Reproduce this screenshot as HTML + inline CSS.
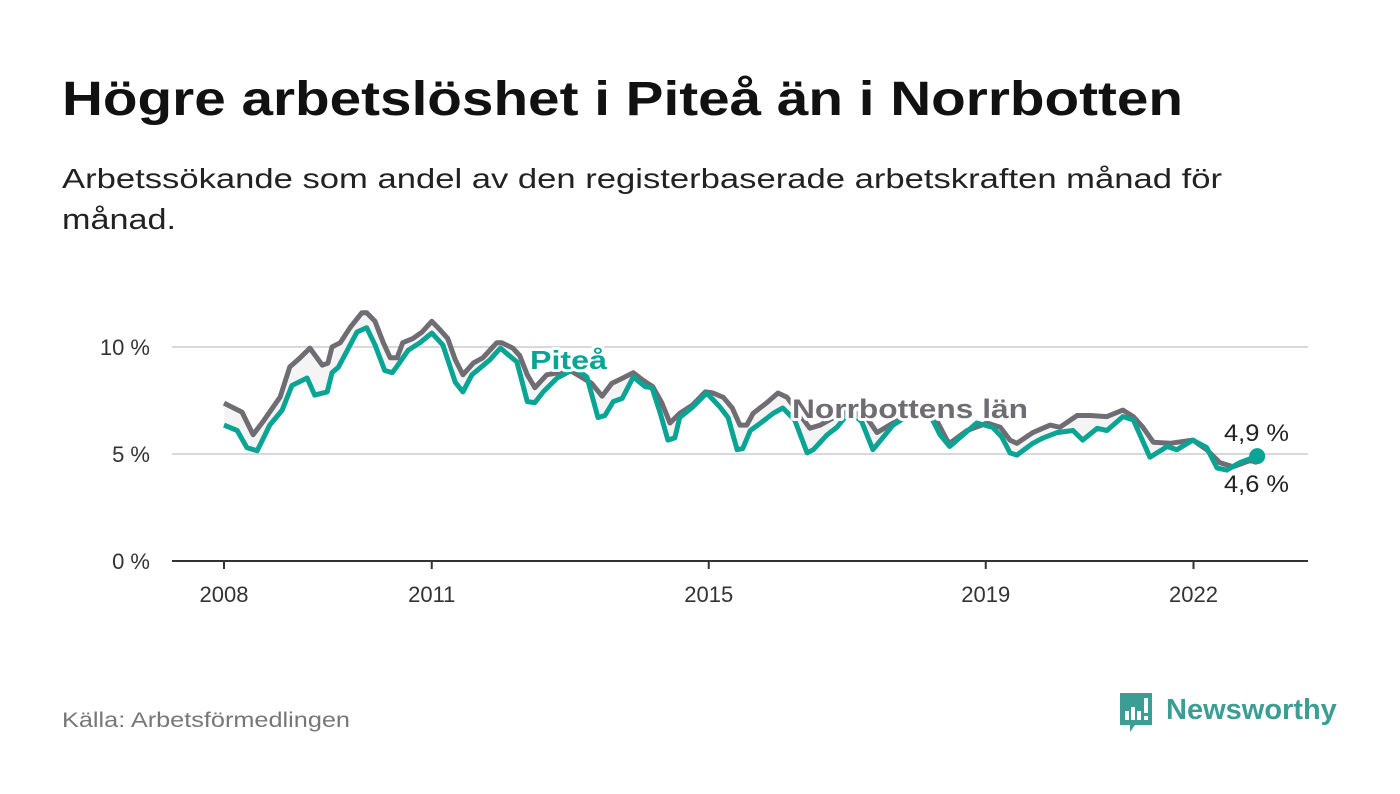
<!DOCTYPE html>
<html><head><meta charset="utf-8"><style>
html,body{margin:0;padding:0;background:#fff;}
svg{display:block;font-family:"Liberation Sans",sans-serif;}
</style></head><body>
<svg id="chart" width="1400" height="794" viewBox="0 0 1400 794" xmlns="http://www.w3.org/2000/svg">
<text x="62" y="115" font-size="48" font-weight="bold" fill="#111" textLength="1121" lengthAdjust="spacingAndGlyphs">Högre arbetslöshet i Piteå än i Norrbotten</text>
<text x="62" y="188" font-size="28" fill="#222" textLength="1160" lengthAdjust="spacingAndGlyphs">Arbetssökande som andel av den registerbaserade arbetskraften månad för</text>
<text x="62" y="229" font-size="29" fill="#222" textLength="114" lengthAdjust="spacingAndGlyphs">månad.</text>
<g id="grid"></g>
<g id="series"></g>
<g id="labels"></g>
<text x="62" y="727" font-size="21" fill="#777" textLength="288" lengthAdjust="spacingAndGlyphs">Källa: Arbetsförmedlingen</text>
<g>
<path d="M1120 693 h32 v32 h-17 l-5 7 v-7 h-10 z" fill="#3a9e94"/>
<rect x="1125" y="711" width="4" height="9" fill="#fff"/>
<rect x="1131" y="707" width="4" height="13" fill="#fff"/>
<rect x="1137" y="711" width="4" height="9" fill="#fff"/>
<rect x="1144" y="698" width="4" height="15" fill="#fff"/>
<rect x="1144" y="716" width="4" height="4" fill="#fff"/>
<text x="1166" y="719" font-size="29" font-weight="bold" fill="#3a9e94">Newsworthy</text>
</g>
</svg>
<script>
const yTicks = [0, 5, 10];
const yTickLabels = ["0 %", "5 %", "10 %"];
const xTicks = [2008, 2011, 2015, 2019, 2022];
const xTickLabels = ["2008", "2011", "2015", "2019", "2022"];
const norrDates = [2008.0,2008.26,2008.42,2008.56,2008.81,2008.95,2009.10,2009.24,2009.42,2009.50,2009.56,2009.68,2009.82,2009.99,2010.06,2010.18,2010.30,2010.40,2010.50,2010.58,2010.73,2010.86,2011.00,2011.12,2011.23,2011.34,2011.45,2011.60,2011.74,2011.94,2012.01,2012.17,2012.27,2012.38,2012.49,2012.66,2013.0,2013.31,2013.46,2013.60,2013.76,2013.91,2014.05,2014.19,2014.32,2014.44,2014.58,2014.77,2014.95,2015.06,2015.21,2015.34,2015.45,2015.55,2015.64,2015.84,2016.00,2016.13,2016.46,2016.61,2016.97,2017.26,2017.43,2017.66,2017.98,2018.27,2018.44,2018.48,2018.73,2019.02,2019.21,2019.35,2019.45,2019.68,2019.93,2020.07,2020.32,2020.51,2020.75,2020.98,2021.13,2021.27,2021.42,2021.66,2021.99,2022.19,2022.38,2022.57,2022.82,2022.92];
const norrValues = [7.38,6.96,5.9,6.5,7.66,9.07,9.5,9.95,9.15,9.25,10.0,10.2,10.9,11.6,11.6,11.2,10.2,9.5,9.5,10.2,10.4,10.7,11.2,10.8,10.4,9.4,8.7,9.25,9.5,10.2,10.2,9.95,9.6,8.7,8.1,8.7,8.9,8.3,7.7,8.3,8.55,8.8,8.45,8.15,7.4,6.45,6.9,7.3,7.9,7.85,7.65,7.15,6.35,6.35,6.9,7.4,7.85,7.65,6.2,6.35,7.0,6.8,6.0,6.45,7.0,6.7,5.65,5.5,6.1,6.45,6.25,5.65,5.5,6.0,6.35,6.25,6.8,6.8,6.75,7.05,6.75,6.25,5.55,5.5,5.65,5.2,4.6,4.4,4.7,4.6];
const piteDates = [2008.0,2008.19,2008.33,2008.48,2008.66,2008.84,2008.98,2009.20,2009.31,2009.49,2009.56,2009.65,2009.92,2010.06,2010.18,2010.32,2010.43,2010.51,2010.66,2010.83,2011.0,2011.16,2011.34,2011.45,2011.58,2011.84,2011.99,2012.23,2012.38,2012.49,2012.61,2012.81,2013.07,2013.24,2013.40,2013.50,2013.62,2013.75,2013.91,2014.08,2014.18,2014.30,2014.41,2014.51,2014.58,2014.77,2014.97,2015.16,2015.28,2015.41,2015.49,2015.60,2015.77,2015.93,2016.07,2016.24,2016.42,2016.51,2016.71,2016.85,2017.04,2017.21,2017.37,2017.66,2017.98,2018.20,2018.34,2018.48,2018.87,2019.10,2019.23,2019.35,2019.45,2019.68,2019.83,2020.03,2020.26,2020.40,2020.61,2020.75,2020.98,2021.13,2021.37,2021.62,2021.76,2021.99,2022.19,2022.34,2022.48,2022.67,2022.92];
const piteValues = [6.35,6.1,5.3,5.15,6.35,7.05,8.2,8.55,7.75,7.9,8.8,9.05,10.7,10.9,10.1,8.9,8.8,9.15,9.85,10.2,10.65,10.1,8.35,7.9,8.7,9.4,9.95,9.3,7.45,7.4,7.9,8.55,9.0,8.6,6.7,6.8,7.45,7.6,8.6,8.15,8.1,6.9,5.65,5.75,6.7,7.2,7.85,7.2,6.7,5.2,5.25,6.1,6.5,6.9,7.15,6.6,5.05,5.2,5.9,6.25,7.0,6.5,5.2,6.35,7.0,6.8,5.9,5.35,6.45,6.25,5.8,5.05,4.95,5.5,5.75,6.0,6.1,5.65,6.2,6.1,6.75,6.6,4.85,5.35,5.2,5.65,5.3,4.35,4.25,4.6,4.9];

const NS = "http://www.w3.org/2000/svg";
const x = t => 224 + (t - 2008) * 69.25;
const y = v => 561 - v * 21.4;
function mk(tag, attrs, parent){const e=document.createElementNS(NS,tag);for(const k in attrs)e.setAttribute(k,attrs[k]);parent.appendChild(e);return e;}
const grid=document.getElementById('grid'), series=document.getElementById('series'), labels=document.getElementById('labels');
yTicks.forEach((v,i)=>{
  if(v>0){const g=mk('line',{x1:172,x2:1308,y1:y(v),y2:y(v),stroke:'#d9d9d9','stroke-width':2},grid);
  
  }
  const t=mk('text',{x:150,y:y(v)+8,'font-size':22,fill:'#333','text-anchor':'end'},grid);
  t.textContent=yTickLabels[i];
  
  
});
const ax=mk('line',{x1:172,x2:1308,y1:561,y2:561,stroke:'#333','stroke-width':2},grid);


xTicks.forEach((t,i)=>{
  const tk=mk('line',{x1:x(t),x2:x(t),y1:561,y2:569,stroke:'#333','stroke-width':2},grid);
  
  
  const l=mk('text',{x:x(t),y:602,'font-size':22,fill:'#333','text-anchor':'middle'},grid);
  l.textContent=xTickLabels[i];
  
  
});
const pts=(d,v)=>d.map((t,i)=>x(t).toFixed(1)+','+y(v[i]).toFixed(1));
const area=mk('polygon',{points:pts(norrDates,norrValues).concat(pts(piteDates,piteValues).reverse()).join(' '),fill:'#f4f4f4'},series);


const ln=mk('polyline',{points:pts(norrDates,norrValues).join(' '),fill:'none',stroke:'#6f6d73','stroke-width':5,'stroke-linejoin':'round'},series);


const lp=mk('polyline',{points:pts(piteDates,piteValues).join(' '),fill:'none',stroke:'#0aa495','stroke-width':5,'stroke-linejoin':'round'},series);


const dot=mk('circle',{cx:x(piteDates[piteDates.length-1]),cy:y(piteValues[piteValues.length-1]),r:8,fill:'#0aa495'},series);


function lab(txt,X,Y,size,col,w,len,name){
  const t=mk('text',{x:X,y:Y,'font-size':size,'font-weight':w,fill:col,stroke:'#fff','stroke-width':6,'paint-order':'stroke','stroke-linejoin':'round',textLength:len,lengthAdjust:'spacingAndGlyphs'},labels);
  t.textContent=txt;
  
  
}
lab('Piteå',530,369,26,'#0aa495','bold',77,'pitea-label');
lab('Norrbottens län',792,418,27,'#6f6d73','bold',236,'norrbotten-label');
lab(String(piteValues[piteValues.length-1]).replace('.',',')+' %',1224,441,24,'#222','normal',65,'pitea-end-value');
lab(String(norrValues[norrValues.length-1]).replace('.',',')+' %',1224,492,24,'#222','normal',65,'norrbotten-end-value');
</script>
</body></html>
